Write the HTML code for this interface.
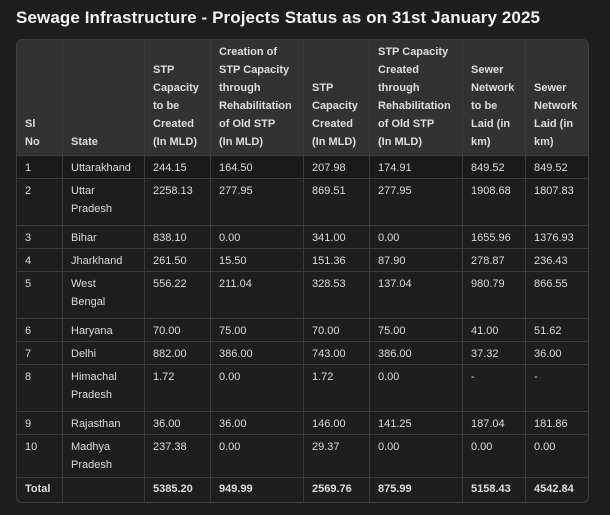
<!DOCTYPE html>
<html><head><meta charset="utf-8"><style>
body{margin:0;width:610px;height:515px;background:#1e1e1e;font-family:"Liberation Sans",sans-serif;color:#e6e6e6;overflow:hidden}
h1{position:absolute;left:16px;top:8px;margin:0;font-size:17px;font-weight:bold;color:#f2f2f2;letter-spacing:0.1px}
.wrap{position:absolute;left:16px;top:39px;width:573px;height:464px;border:1px solid #3e3e3e;border-radius:6px;overflow:hidden;box-sizing:border-box}
table{border-collapse:collapse;table-layout:fixed;width:573px;font-size:11px;margin:-1px}
td,th{border:1px solid #3c3c3c;padding:0 8px;text-align:left;line-height:18px;vertical-align:top;white-space:nowrap}
th{background:#323232;font-weight:bold;color:#dedede;vertical-align:bottom;padding-bottom:4px;height:111px}
td{color:#dcdcdc;padding-top:3px}
tr.r1 td{height:19px;background:#1a1a1a}
tr.r2 td{height:43px}
tr.r3 td{height:39px}
tr.s td{height:19px}
tr.t td{font-weight:bold;height:22px;padding-top:2px}
</style></head><body>
<h1>Sewage Infrastructure - Projects Status as on 31st January 2025</h1>
<div class="wrap"><table>
<colgroup><col style="width:46px"><col style="width:82px"><col style="width:66px"><col style="width:93px"><col style="width:66px"><col style="width:93px"><col style="width:63px"><col style="width:64px"></colgroup>
<tr><th>Sl<br>No</th><th>State</th><th>STP<br>Capacity<br>to be<br>Created<br>(In MLD)</th><th>Creation of<br>STP Capacity<br>through<br>Rehabilitation<br>of Old STP<br>(In MLD)</th><th>STP<br>Capacity<br>Created<br>(In MLD)</th><th>STP Capacity<br>Created<br>through<br>Rehabilitation<br>of Old STP<br>(In MLD)</th><th>Sewer<br>Network<br>to be<br>Laid (in<br>km)</th><th>Sewer<br>Network<br>Laid (in<br>km)</th></tr>
<tr class="r1"><td>1</td><td>Uttarakhand</td><td>244.15</td><td>164.50</td><td>207.98</td><td>174.91</td><td>849.52</td><td>849.52</td></tr>
<tr class="r2"><td>2</td><td>Uttar<br>Pradesh</td><td>2258.13</td><td>277.95</td><td>869.51</td><td>277.95</td><td>1908.68</td><td>1807.83</td></tr>
<tr class="s"><td>3</td><td>Bihar</td><td>838.10</td><td>0.00</td><td>341.00</td><td>0.00</td><td>1655.96</td><td>1376.93</td></tr>
<tr class="s"><td>4</td><td>Jharkhand</td><td>261.50</td><td>15.50</td><td>151.36</td><td>87.90</td><td>278.87</td><td>236.43</td></tr>
<tr class="r2"><td>5</td><td>West<br>Bengal</td><td>556.22</td><td>211.04</td><td>328.53</td><td>137.04</td><td>980.79</td><td>866.55</td></tr>
<tr class="s"><td>6</td><td>Haryana</td><td>70.00</td><td>75.00</td><td>70.00</td><td>75.00</td><td>41.00</td><td>51.62</td></tr>
<tr class="s"><td>7</td><td>Delhi</td><td>882.00</td><td>386.00</td><td>743.00</td><td>386.00</td><td>37.32</td><td>36.00</td></tr>
<tr class="r2"><td>8</td><td>Himachal<br>Pradesh</td><td>1.72</td><td>0.00</td><td>1.72</td><td>0.00</td><td>-</td><td>-</td></tr>
<tr class="s"><td>9</td><td>Rajasthan</td><td>36.00</td><td>36.00</td><td>146.00</td><td>141.25</td><td>187.04</td><td>181.86</td></tr>
<tr class="r3"><td>10</td><td>Madhya<br>Pradesh</td><td>237.38</td><td>0.00</td><td>29.37</td><td>0.00</td><td>0.00</td><td>0.00</td></tr>
<tr class="t"><td>Total</td><td></td><td>5385.20</td><td>949.99</td><td>2569.76</td><td>875.99</td><td>5158.43</td><td>4542.84</td></tr>
</table></div>
</body></html>
